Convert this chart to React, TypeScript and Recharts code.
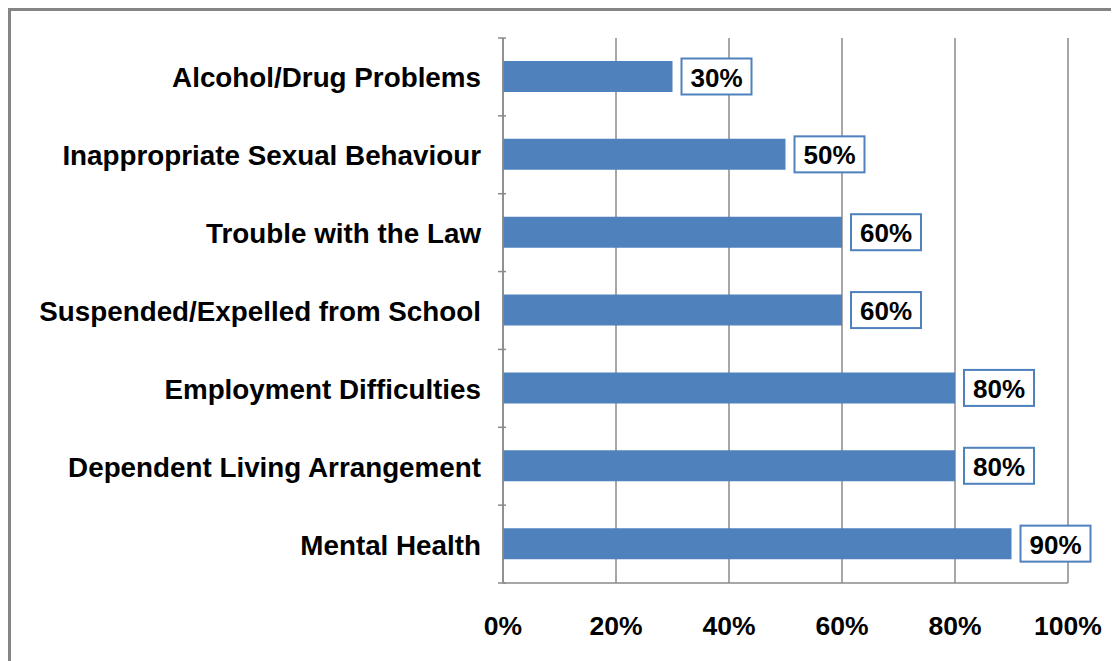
import { Bar, BarChart, CartesianGrid, LabelList, XAxis, YAxis } from 'recharts'

const categories = [
  'Alcohol/Drug Problems',
  'Inappropriate Sexual Behaviour',
  'Trouble with the Law',
  'Suspended/Expelled from School',
  'Employment Difficulties',
  'Dependent Living Arrangement',
  'Mental Health',
]
const values = [30, 50, 60, 60, 80, 80, 90]
const xTicks = [0, 20, 40, 60, 80, 100]

const data = categories.map((name, i) => ({ name, value: values[i] }))

const FONT = '"Liberation Sans", Arial, sans-serif'
const BLUE = '#4F81BD'
const GREY = '#8a8a8a'

const PLOT_TOP = 27
const PLOT_H = 545

function CategoryTick(props: any) {
  const { x, y, payload, index } = props
  const band = PLOT_H / categories.length
  const ax = x + 11
  return (
    <g>
      <text
        x={x - 14}
        y={y + 1}
        textAnchor="end"
        dominantBaseline="central"
        fontFamily={FONT}
        fontWeight="bold"
        fontSize={27.8}
        fill="#000"
      >
        {payload.value}
      </text>
      <line x1={ax - 8} x2={ax} y1={y - band / 2} y2={y - band / 2} stroke={GREY} strokeWidth={1.5} />
      {index === categories.length - 1 && (
        <line x1={ax - 8} x2={ax} y1={y + band / 2} y2={y + band / 2} stroke={GREY} strokeWidth={1.5} />
      )}
    </g>
  )
}

function ValueLabel(props: any) {
  const { x, y, width, height, value } = props
  const bx = x + width + 9
  const cy = y + height / 2
  return (
    <g>
      <rect x={bx} y={cy - 18} width={70} height={36} fill="#fff" stroke={BLUE} strokeWidth={2} />
      <text
        x={bx + 35}
        y={cy + 1}
        textAnchor="middle"
        dominantBaseline="central"
        fontFamily={FONT}
        fontWeight="bold"
        fontSize={26}
        fill="#000"
      >
        {value}%
      </text>
    </g>
  )
}

export default function App() {
  return (
    <div
      style={{
        position: 'relative',
        width: 1130,
        height: 680,
        border: '3px solid #858585',
        boxSizing: 'border-box',
        background: '#fff',
      }}
    >
      <style>{'body{overflow:hidden}'}</style>
      <BarChart
        width={1110}
        height={650}
        data={data}
        layout="vertical"
        margin={{ top: PLOT_TOP, right: 53, left: 0, bottom: 38 }}
        barCategoryGap={0}
      >
        <CartesianGrid horizontal={false} stroke={GREY} strokeWidth={1.5} />
        <XAxis
          type="number"
          domain={[0, 100]}
          ticks={xTicks}
          tickFormatter={(v: number) => `${v}%`}
          height={40}
          axisLine={{ stroke: GREY, strokeWidth: 1.5 }}
          tickLine={false}
          tick={{ fontFamily: FONT, fontWeight: 'bold', fontSize: 26.5, fill: '#000', dy: 25 }}
        />
        <YAxis
          type="category"
          dataKey="name"
          width={492}
          axisLine={{ stroke: GREY, strokeWidth: 1.5 }}
          tickLine={false}
          tick={<CategoryTick />}
          interval={0}
        />
        <Bar dataKey="value" fill={BLUE} barSize={31} isAnimationActive={false}>
          <LabelList dataKey="value" content={<ValueLabel />} />
        </Bar>
      </BarChart>
    </div>
  )
}
